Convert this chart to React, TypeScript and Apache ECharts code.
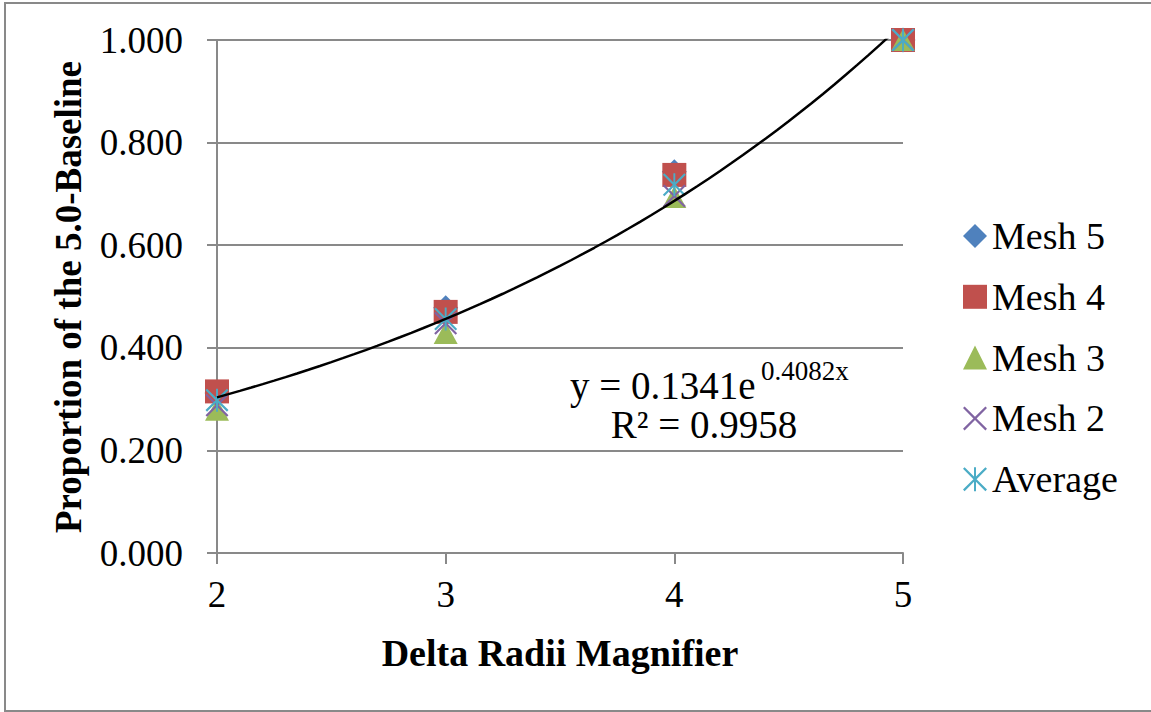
import React, { useEffect, useRef } from "react";
import * as echarts from "echarts";

// Delta radii magnifier values on the x axis
const X_VALUES = [2, 3, 4, 5];

// Proportion of the 5.0 baseline for each mesh
const MESH5 = [0.312, 0.478, 0.743, 1.0];
const MESH4 = [0.315, 0.47, 0.737, 1.0];
const MESH3 = [0.279, 0.429, 0.694, 1.0];
const MESH2 = [0.288, 0.448, 0.696, 1.0];
const AVERAGE = [0.298, 0.456, 0.718, 1.0];

const SERIES_NAMES = ["Mesh 5", "Mesh 4", "Mesh 3", "Mesh 2", "Average"];

// Exponential trendline as stated in its label: y = A * e^(B x)
const TREND_A = 0.1341;
const TREND_B = 0.4082;
const TREND_R2 = "0.9958";
const TREND_STEP = 0.05;

const FONT = "'Liberation Serif', 'Times New Roman', serif";
const GRID_COLOR = "#898989";

const X_MARK =
  "path://M0,1.6 L1.6,0 L12,10.4 L22.4,0 L24,1.6 L13.6,12 L24,22.4 L22.4,24 L12,13.6 L1.6,24 L0,22.4 L10.4,12 Z";
const STAR_MARK =
  "path://M0,1.6 L1.6,0 L12,10.4 L22.4,0 L24,1.6 L13.6,12 L24,22.4 L22.4,24 L12,13.6 L1.6,24 L0,22.4 L10.4,12 Z M11,0 L13,0 L13,24 L11,24 Z";

const pairs = (ys: number[]) => X_VALUES.map((x, i) => [x, ys[i]]);

function trendPoints(): number[][] {
  const pts: number[][] = [];
  const n = Math.round((X_VALUES[X_VALUES.length - 1] - X_VALUES[0]) / TREND_STEP);
  for (let i = 0; i <= n; i++) {
    const x = X_VALUES[0] + i * TREND_STEP;
    pts.push([x, TREND_A * Math.exp(TREND_B * x)]);
  }
  return pts;
}

export default function App() {
  const ref = useRef<HTMLDivElement>(null);

  useEffect(() => {
    if (!ref.current) return;
    const chart = echarts.init(ref.current, null, { renderer: "svg" });

    const scatter = (name: string, data: number[], color: string, symbol: string, size: any) => ({
      name,
      type: "scatter",
      data: pairs(data),
      symbol,
      symbolSize: size,
      itemStyle: { color, opacity: 1 },
      z: 3,
    });

    chart.setOption({
      animation: false,
      backgroundColor: "#ffffff",
      textStyle: { fontFamily: FONT },
      grid: { left: 217, top: 40, right: 248, bottom: 159, containLabel: false },
      xAxis: {
        type: "value",
        min: 2,
        max: 5,
        interval: 1,
        axisLine: { show: true, onZero: false, lineStyle: { color: GRID_COLOR, width: 2 } },
        axisTick: { show: true, length: 11, lineStyle: { color: GRID_COLOR, width: 2 } },
        axisLabel: { color: "#000", fontSize: 37, fontFamily: FONT, margin: 23 },
        splitLine: { show: false },
      },
      yAxis: {
        type: "value",
        min: 0,
        max: 1,
        interval: 0.2,
        axisLine: { show: true, lineStyle: { color: GRID_COLOR, width: 2 } },
        axisTick: { show: true, length: 10, lineStyle: { color: GRID_COLOR, width: 2 } },
        axisLabel: {
          color: "#000",
          fontSize: 37,
          fontFamily: FONT,
          margin: 34,
          formatter: (v: number) => v.toFixed(3),
        },
        splitLine: { show: true, lineStyle: { color: GRID_COLOR, width: 2 } },
      },
      legend: {
        data: SERIES_NAMES,
        orient: "vertical",
        left: 963,
        top: 217,
        itemWidth: 24,
        itemHeight: 24,
        itemGap: 22.8,
        selectedMode: false,
        padding: 0,
        textStyle: { color: "#000", fontSize: 38, fontFamily: FONT, padding: [0, 0, 0, 0] },
      },
      graphic: [
        {
          type: "rect",
          shape: { x: 5, y: 3, width: 1160, height: 708 },
          style: { fill: "none", stroke: GRID_COLOR, lineWidth: 2 },
          silent: true,
        },
        {
          type: "text",
          x: 560,
          y: 653,
          style: {
            text: "Delta Radii Magnifier",
            fontSize: 38,
            fontWeight: "bold",
            fontFamily: FONT,
            fill: "#000",
            textAlign: "center",
            textVerticalAlign: "middle",
          },
        },
        {
          type: "text",
          x: 68,
          y: 297,
          rotation: Math.PI / 2,
          style: {
            text: "Proportion of the 5.0-Baseline",
            fontSize: 37,
            fontWeight: "bold",
            fontFamily: FONT,
            fill: "#000",
            textAlign: "center",
            textVerticalAlign: "middle",
          },
        },
        {
          type: "text",
          x: 570,
          y: 385,
          z: 10,
          style: {
            text: "y = " + TREND_A.toFixed(4) + "e",
            fontSize: 39,
            fontFamily: FONT,
            fill: "#000",
            textAlign: "left",
            textVerticalAlign: "middle",
          },
        },
        {
          type: "text",
          x: 761,
          y: 371,
          z: 10,
          style: {
            text: TREND_B.toFixed(4) + "x",
            fontSize: 27,
            fontFamily: FONT,
            fill: "#000",
            textAlign: "left",
            textVerticalAlign: "middle",
          },
        },
        {
          type: "text",
          x: 704,
          y: 424,
          z: 10,
          style: {
            text: "R² = " + TREND_R2,
            fontSize: 39,
            fontFamily: FONT,
            fill: "#000",
            textAlign: "center",
            textVerticalAlign: "middle",
          },
        },
      ],
      series: [
        scatter("Mesh 5", MESH5, "#4F81BD", "diamond", 25),
        scatter("Mesh 4", MESH4, "#C0504D", "rect", 24),
        scatter("Mesh 3", MESH3, "#9BBB59", "triangle", [24, 22]),
        scatter("Mesh 2", MESH2, "#8064A2", X_MARK, 23),
        scatter("Average", AVERAGE, "#4BACC6", STAR_MARK, 23),
        {
          name: "Trend",
          type: "line",
          data: trendPoints(),
          showSymbol: false,
          symbol: "none",
          smooth: false,
          clip: true,
          lineStyle: { color: "#000", width: 2.5 },
          z: 5,
          silent: true,
        },
      ],
    });

    return () => chart.dispose();
  }, []);

  return (
    <div
      ref={ref}
      style={{ position: "fixed", left: 0, top: 0, width: 1151, height: 712, background: "#fff" }}
    />
  );
}
